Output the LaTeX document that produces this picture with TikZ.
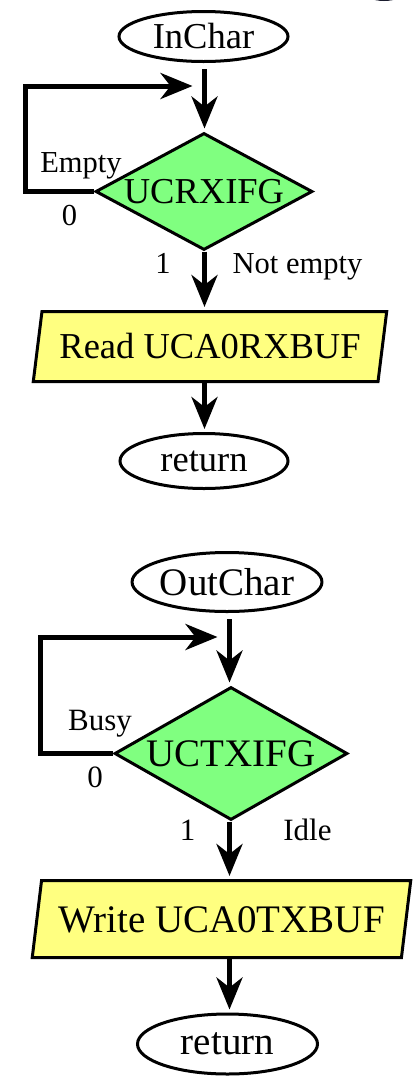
\documentclass[tikz,border=0pt]{standalone}
\usepackage{fontspec}
\setmainfont{Liberation Serif}
\usetikzlibrary{arrows.meta,shapes.geometric}
\definecolor{decgreen}{HTML}{80FF80}
\definecolor{ioyellow}{HTML}{FFFF80}
\definecolor{blobdark}{HTML}{1A1C2E}
\begin{document}
\begin{tikzpicture}[x=1pt,y=-1pt,
  conn/.style={line width=5pt, -{Stealth[length=32pt,width=26pt,inset=10pt]}, shorten <=6pt, shorten >=3pt, line join=miter},
  loopconn/.style={conn, shorten <=0pt, shorten >=12pt},
  term/.style={ellipse, draw, line width=3pt, inner sep=0pt, fill=white},
  dec/.style={diamond, draw, line width=3pt, fill=decgreen, inner sep=0pt, text depth=0pt},
  io/.style={trapezium, trapezium left angle=72, trapezium right angle=108, trapezium stretches=true, draw, line width=3pt, fill=ioyellow, inner sep=0pt, text depth=0pt},
  lbl/.style={anchor=base, inner sep=0pt},
  fa/.style={font=\fontsize{36.5}{40}\selectfont},
  fb/.style={font=\fontsize{39}{43}\selectfont},
  la/.style={font=\fontsize{30.5}{34}\selectfont},
  lb/.style={font=\fontsize{31}{34}\selectfont}]
\useasboundingbox (0,0) rectangle (414,1077);
\fill[blobdark] (384,-10) ellipse [x radius=22pt, y radius=11pt];

% ---------- InChar ----------
\node[term, fa, minimum width=169pt, minimum height=50pt] (inchar) at (203.5,36.5) {InChar};
\node[dec, fa, aspect=1.855, minimum width=217pt, minimum height=117pt, text height=24pt] (dec1) at (204,191.5) {UCRXIFG};
\node[io, fa, minimum width=355pt, minimum height=70pt, text height=24pt] (read) at (210,346.5) {Read UCA0RXBUF};
\node[term, fa, minimum width=168pt, minimum height=55pt] (ret1) at (204,461) {return};
\coordinate (m1) at (204.5,86);

\draw[conn] (inchar.south -| m1) -- (dec1.north -| m1);
\draw[loopconn] (dec1.west) -- ++(-69,0) |- (m1);
\draw[conn, shorten <=0pt] (dec1.south -| m1) -- (read.north -| m1);
\draw[conn, shorten <=-2pt] (read.south -| m1) -- (ret1.north -| m1);

\node[lbl, la] (l1) at (81,172) {Empty};
\node[lbl, la] (l2) at (69.5,225) {0};
\node[lbl, la] (l3) at (163,273) {1};
\node[lbl, la] (l4) at (297.5,273) {Not empty};

% ---------- OutChar ----------
\node[term, fb, minimum width=179pt, minimum height=59pt] (outchar) at (227,582) {OutChar};
\node[dec, fb, aspect=1.75, minimum width=233pt, minimum height=133pt, text height=26pt] (dec2) at (231,753.5) {UCTXIFG};
\node[io, fb, minimum width=380pt, minimum height=77pt, text height=26pt] (write) at (221.5,919) {Write UCA0TXBUF};
\node[term, fb, minimum width=180pt, minimum height=60pt] (ret2) at (227.5,1044) {return};
\coordinate (m2) at (229.5,637);

\draw[conn] (outchar.south -| m2) -- (dec2.north -| m2);
\draw[loopconn] (dec2.west) -- ++(-73,0) |- (m2);
\draw[conn, shorten <=0pt] (dec2.south -| m2) -- (write.north -| m2);
\draw[conn, shorten <=-2pt] (write.south -| m2) -- (ret2.north -| m2);

\node[lbl, lb] (l5) at (100,730) {Busy};
\node[lbl, lb] (l6) at (95,787) {0};
\node[lbl, lb] (l7) at (187.5,840) {1};
\node[lbl, lb] (l8) at (307.5,840) {Idle};
\end{tikzpicture}
\end{document}
